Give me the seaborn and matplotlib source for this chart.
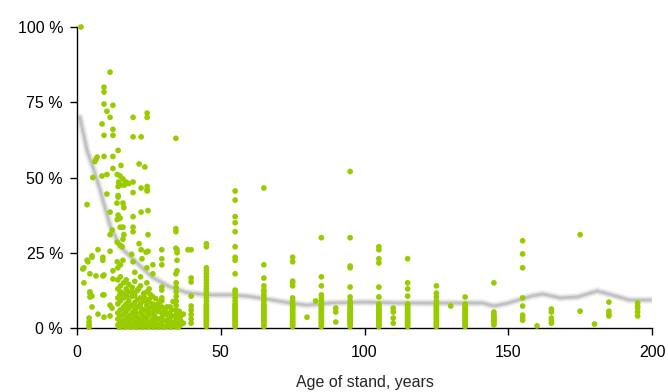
import numpy as np
import pandas as pd
import matplotlib
matplotlib.use("Agg")
import matplotlib.pyplot as plt
import seaborn as sns

# young stands: scattered ages (years) and share (%)
young_age = [
    1.4, 11.5, 9.4, 9.4, 9.4, 12.5, 10.4, 24.4, 24.4, 11.5, 19.5, 8.7, 12.5, 9.4, 12.5,
    19.5, 22.3, 34.4, 14.3, 7.0, 6.6, 6.2, 9.4, 12.5, 15.3, 12.5, 21.6, 23.6, 5.5, 8.7,
    10.4, 14.0, 15.0, 16.0, 14.5, 17.0, 15.3, 16.5, 18.0, 14.3, 19.5, 24.4, 24.4, 22.3,
    19.5, 10.4, 14.3, 3.5, 14.3, 13.9, 16.0, 16.3, 24.4, 11.5, 14.3, 15.0, 14.0, 22.3,
    24.7, 19.5, 12.2, 11.5, 15.0, 16.0, 16.3, 19.5, 19.5, 24.7, 34.4, 34.4,
    16.0, 14.0, 15.0, 15.7, 21.6, 22.3, 24.0, 24.7, 29.5, 34.8, 34.8, 7.3, 11.5, 39.7,
    34.4, 38.6,
    5.2, 3.8, 9.0, 9.0, 14.0, 16.0, 19.0, 19.5, 22.6, 29.5, 29.5, 34.8, 34.8, 34.4, 2.0,
    4.5, 6.6, 9.0, 12.5, 12.5, 26.4, 26.4, 2.4, 9.4, 39.7, 39.7, 3.5, 5.2, 2.4,
    4.5, 5.2, 5.2, 9.0, 11.5, 12.2, 7.3, 9.4, 11.5, 4.2, 4.2, 4.2, 4.5, 4.5, 9.4, 4.2,
    14.2, 14.2, 14.2, 14.2, 14.2, 14.2, 14.2, 14.2,
    15.1, 15.1, 15.1, 15.1, 15.1, 15.1, 15.1, 15.1, 15.1,
    16.2, 16.2, 16.2, 16.2, 16.2, 16.2, 16.2,
    17.1, 17.1, 17.1, 17.1, 17.1, 17.1,
    18.0, 18.0, 18.0, 18.0, 18.0, 18.0, 18.0,
    19.2, 19.2, 19.2, 19.2, 19.2, 19.2,
    20.1, 20.1, 20.1, 20.1, 20.1, 20.1, 20.1, 20.1,
    21.0, 21.0, 21.0, 21.0, 21.0, 21.0,
    22.1, 22.1, 22.1, 22.1, 22.1, 22.1, 22.1,
    23.2, 23.2, 23.2, 23.2, 23.2, 23.2,
    24.3, 24.3, 24.3, 24.3, 24.3, 24.3, 24.3,
    25.1, 25.1, 25.1, 25.1, 25.1, 25.1,
    26.2, 26.2, 26.2, 26.2, 26.2,
    27.0, 27.0, 27.0, 27.0, 27.0,
    28.1, 28.1, 28.1, 28.1,
    29.5, 29.5, 29.5, 29.5, 29.5, 29.5, 29.5, 29.5, 29.5,
    31.0, 31.0, 31.0,
    32.1, 32.1, 32.1,
    33.0, 33.0, 33.0, 33.0,
    34.5, 34.5, 34.5, 34.5, 34.5, 34.5, 34.5, 34.5, 34.5, 34.5, 34.5,
    36.0, 36.0, 36.0,
    37.0, 37.0,
    39.7, 39.7, 39.7, 39.7, 39.7, 39.7,
    # extra fill of the dense floor
    14.7, 15.6, 16.7, 17.6, 18.6, 19.7, 20.6, 21.6, 22.6, 23.7, 24.8, 25.6, 26.7, 27.6,
    28.6, 30.3, 31.6, 32.6, 33.6, 35.3, 16.8, 18.4, 20.4, 22.4, 24.6, 26.5, 28.3, 30.6,
    32.4, 35.6, 14.9, 17.4, 19.6, 21.4, 23.4, 25.4, 27.3, 29.0, 31.3, 33.4,
]
young_pct = [
    100, 85, 80, 78.4, 74.4, 74, 72, 71.4, 70, 70, 70, 67.8, 66, 64, 64,
    63.5, 63.5, 63, 59, 56.8, 56, 55.3, 57, 57, 54, 53, 54.5, 53.5, 50, 50.5,
    51, 51, 50.5, 49.5, 48.5, 48.5, 47.5, 47.5, 48, 47, 48.5, 47, 46, 46.5,
    45, 44.5, 44, 41, 43.5, 41.5, 41.5, 40, 45.5, 38.5, 37.5, 36.5, 36, 38.5,
    39, 37, 32.5, 31, 33.5, 33.5, 31, 33.5, 32, 31, 33, 32,
    29.5, 28.5, 27.5, 27, 28, 26, 25.2, 25.5, 26, 26, 25, 26, 25.5, 26,
    26.5, 26,
    23.5, 22, 23.5, 22.5, 22, 22.5, 24.5, 22, 23, 23, 21, 22.5, 19, 18, 19.6,
    18, 17.3, 17.3, 19, 16.3, 21, 18, 15, 17.6, 16.6, 15.3, 22.5, 24, 20,
    12, 10.6, 7, 11, 7.6, 6.6, 4.6, 3.6, 4, 3.3, 2, 1, 11.6, 10.3, 11, 0.3,
    1, 3, 5, 8, 10, 13, 16, 20,
    0.5, 2, 4, 6, 9, 12, 14, 17, 21,
    1, 2.5, 4.5, 7, 10, 11.5, 15,
    0.5, 3, 5.5, 8, 13, 16,
    1.5, 2, 4, 6.5, 9, 12, 14.5,
    0.5, 3, 5, 7.5, 10.5, 13.5,
    1, 2.5, 4.5, 6, 8.5, 11, 15.5, 18.5,
    0.5, 2, 3.5, 7, 9.5, 12.5,
    1.5, 3, 5, 8, 10, 14, 17,
    0.5, 2.5, 4, 6, 9, 11.5,
    1, 3.5, 5.5, 7.5, 12, 15, 20,
    0.5, 2, 4.5, 6.5, 9.5, 13,
    1.5, 3, 5, 8, 10.5,
    0.5, 2, 4, 6, 7.5,
    1, 3, 5.5, 8,
    1, 2, 3.5, 5, 7, 9, 10, 12.6, 13.6,
    0.5, 2.5, 4.5,
    1, 3, 5,
    0.5, 2, 4, 6,
    0.5, 1.5, 3, 4.5, 6, 7.5, 9, 10.5, 12, 13.5, 15,
    1, 2.5, 4,
    1.6, 4.6,
    1.6, 3, 4.5, 6, 7.3, 10.6,
    0.3, 1.2, 0.3, 1.8, 0.3, 1.2, 0.3, 1.2, 0.3, 1.5, 0.3, 1.2, 0.3, 1.2,
    0.3, 0.3, 1.2, 0.3, 1.2, 0.3, 6.2, 7.2, 5.4, 6.4, 8.8, 7.0, 6.3, 5.8,
    7.0, 5.5, 11.0, 10.5, 11.8, 13.0, 10.2, 11.2, 9.8, 9.0, 7.0, 8.8,
]

# older stands: one column of values per age class
dense_low = [0.5, 1, 1.5, 2, 2.5, 3, 3.5, 4, 4.5, 5, 5.5, 6, 6.5, 7, 7.5, 8]
col_ages = [45, 55, 65, 75, 80, 83, 85, 90, 95, 105, 110, 115, 125, 130, 135,
            145, 155, 160, 165, 175, 180, 185, 195]
col_values = [
    [28, 27, 20, 19, 18, 17, 16, 15, 14, 13, 12, 11, 10, 9] + dense_low,
    [45.5, 42.5, 37, 35, 32, 27, 23.5, 22.5, 18, 12.6, 12, 11, 10, 9] + dense_low,
    [46.5, 21, 16.6, 14, 12.6, 12, 11, 10, 9] + dense_low,
    [23.5, 22, 15.6, 15, 14, 10, 9] + dense_low,
    [3.6],
    [9],
    [30, 17, 14, 11, 10, 9] + dense_low,
    [6.6, 5.3, 2],
    [52, 30, 20.6, 20, 13.6, 10.3, 9] + dense_low,
    [27, 26, 23, 21.6, 13.6, 10.3] + dense_low,
    [6.6, 5.3, 3.3, 1.6],
    [23, 15, 13, 10.6] + dense_low,
    [14, 11.6, 10.3, 9] + dense_low,
    [7.3],
    [10.3] + dense_low,
    [15, 5.3, 4.5, 4, 3.5, 3, 2.5, 2, 1.5, 1],
    [29, 24.6, 20, 10, 7.3, 4.3, 3.3, 2.6],
    [0.7],
    [6.3, 5.3, 3.3, 2.6, 1.6],
    [31, 5.6],
    [1.3],
    [8.6, 5.6, 4.6, 4],
    [8.3, 7.3, 6.6, 5.3, 4],
]

# smoothed trend line
trend_age = [1, 3.5, 5, 8, 11.5, 15, 21, 26, 32, 38, 45, 54, 60, 68, 74, 80, 88, 100,
             112, 123, 141, 145, 150, 158, 162, 168, 174, 181, 186, 192, 200]
trend_pct = [70, 59, 55, 46, 34, 27, 21.5, 17, 13.8, 11.8, 11, 11, 10.5, 9.3, 8.3, 7.6,
             8.3, 8.6, 8.3, 8.3, 8.3, 7.3, 8.3, 10.6, 11.3, 10, 10.3, 12.3, 11, 9.3, 9.3]

ytick_labels = ["0 %", "25 %", "50 %", "75 %", "100 %"]

old_age = [a for a, vals in zip(col_ages, col_values) for _ in vals]
old_pct = [v for vals in col_values for v in vals]
points = pd.DataFrame({"age": young_age + old_age, "pct": young_pct + old_pct})
trend = pd.DataFrame({"age": trend_age, "pct": trend_pct})

sns.set_style("ticks")
plt.rcParams["font.family"] = ["Liberation Sans", "DejaVu Sans"]

fig = plt.figure(figsize=(6.68, 3.92), dpi=100)
ax = fig.add_axes([77 / 668, 1 - 328 / 392, 575 / 668, 301 / 392])

# blurred grey trend (several soft layers)
for lw, alpha, col in [(6, 0.25, "#d4d4d4"), (4, 0.4, "#c4c4c4"), (2, 0.55, "#aaaaaa")]:
    sns.lineplot(data=trend, x="age", y="pct", ax=ax, color=col, lw=lw, alpha=alpha,
                 sort=False, zorder=1)

sns.scatterplot(data=points, x="age", y="pct", ax=ax, color="#99cc00", s=17,
                edgecolor="none", linewidth=0, zorder=3, clip_on=False)

ax.set_xlim(0, 200)
ax.set_ylim(0, 100)
ax.set_xticks([0, 50, 100, 150, 200])
ax.set_yticks([0, 25, 50, 75, 100])
ax.set_yticklabels(ytick_labels)
ax.tick_params(labelsize=11.5, length=5, width=1, color="black", labelcolor="black")
ax.tick_params(axis="x", pad=7)
ax.tick_params(axis="y", pad=5)
ax.set_xlabel("Age of stand, years", fontsize=11.5, labelpad=11)
ax.set_ylabel("")
sns.despine(ax=ax)
for sp in ["left", "bottom"]:
    ax.spines[sp].set_color("black")
    ax.spines[sp].set_linewidth(1)

fig.savefig("out.png", dpi=100)
